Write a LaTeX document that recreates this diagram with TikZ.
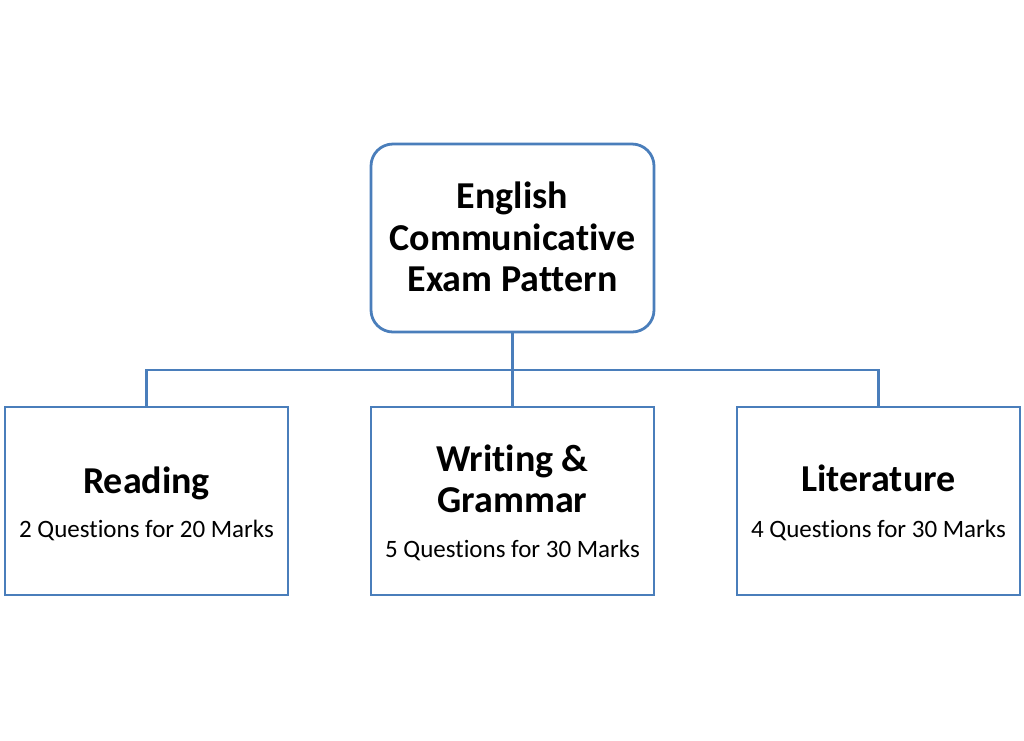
\documentclass[tikz,border=0pt]{standalone}
\usepackage{fontspec}
\setmainfont[Ligatures=NoCommon]{Carlito}
\definecolor{boxblue}{HTML}{4A7EBB}
\begin{document}
\begin{tikzpicture}[x=1pt,y=-1pt,
  box/.style={draw=boxblue,line width=2.8pt,fill=white,minimum width=283pt,minimum height=188pt,inner sep=0pt},
  conn/.style={draw=boxblue,line width=2.8pt},
  title/.style={font=\bfseries\fontsize{38}{41.5}\selectfont,align=center},
  sub/.style={font=\fontsize{25}{30}\selectfont}]
\useasboundingbox (0,0) rectangle (1024,740);
\node[box,rounded corners=22pt] (top) at (512.5,238) {};
\node[box] (left) at (146.5,501) {};
\node[box] (mid) at (512.5,501) {};
\node[box] (right) at (878.5,501) {};
\coordinate (bus) at (512.5,370);
\draw[conn] (top.south) -- (mid.north);
\draw[conn] (left.north) |- (bus) -| (right.north);
\node[title] (ttop) at (512.5,237) {English\\Communicative\\Exam Pattern};
\node[title] (tleft) at (146.5,483) {Reading};
\node[sub] (sleft) at (146.5,530) {2 Questions for 20 Marks};
\node[title] (tmid) at (512.5,479) {Writing \&\\Grammar};
\node[sub] (smid) at (512.5,550) {5 Questions for 30 Marks};
\node[title] (tright) at (878.5,478) {Literature};
\node[sub] (sright) at (878.5,530) {4 Questions for 30 Marks};
\end{tikzpicture}
\end{document}
